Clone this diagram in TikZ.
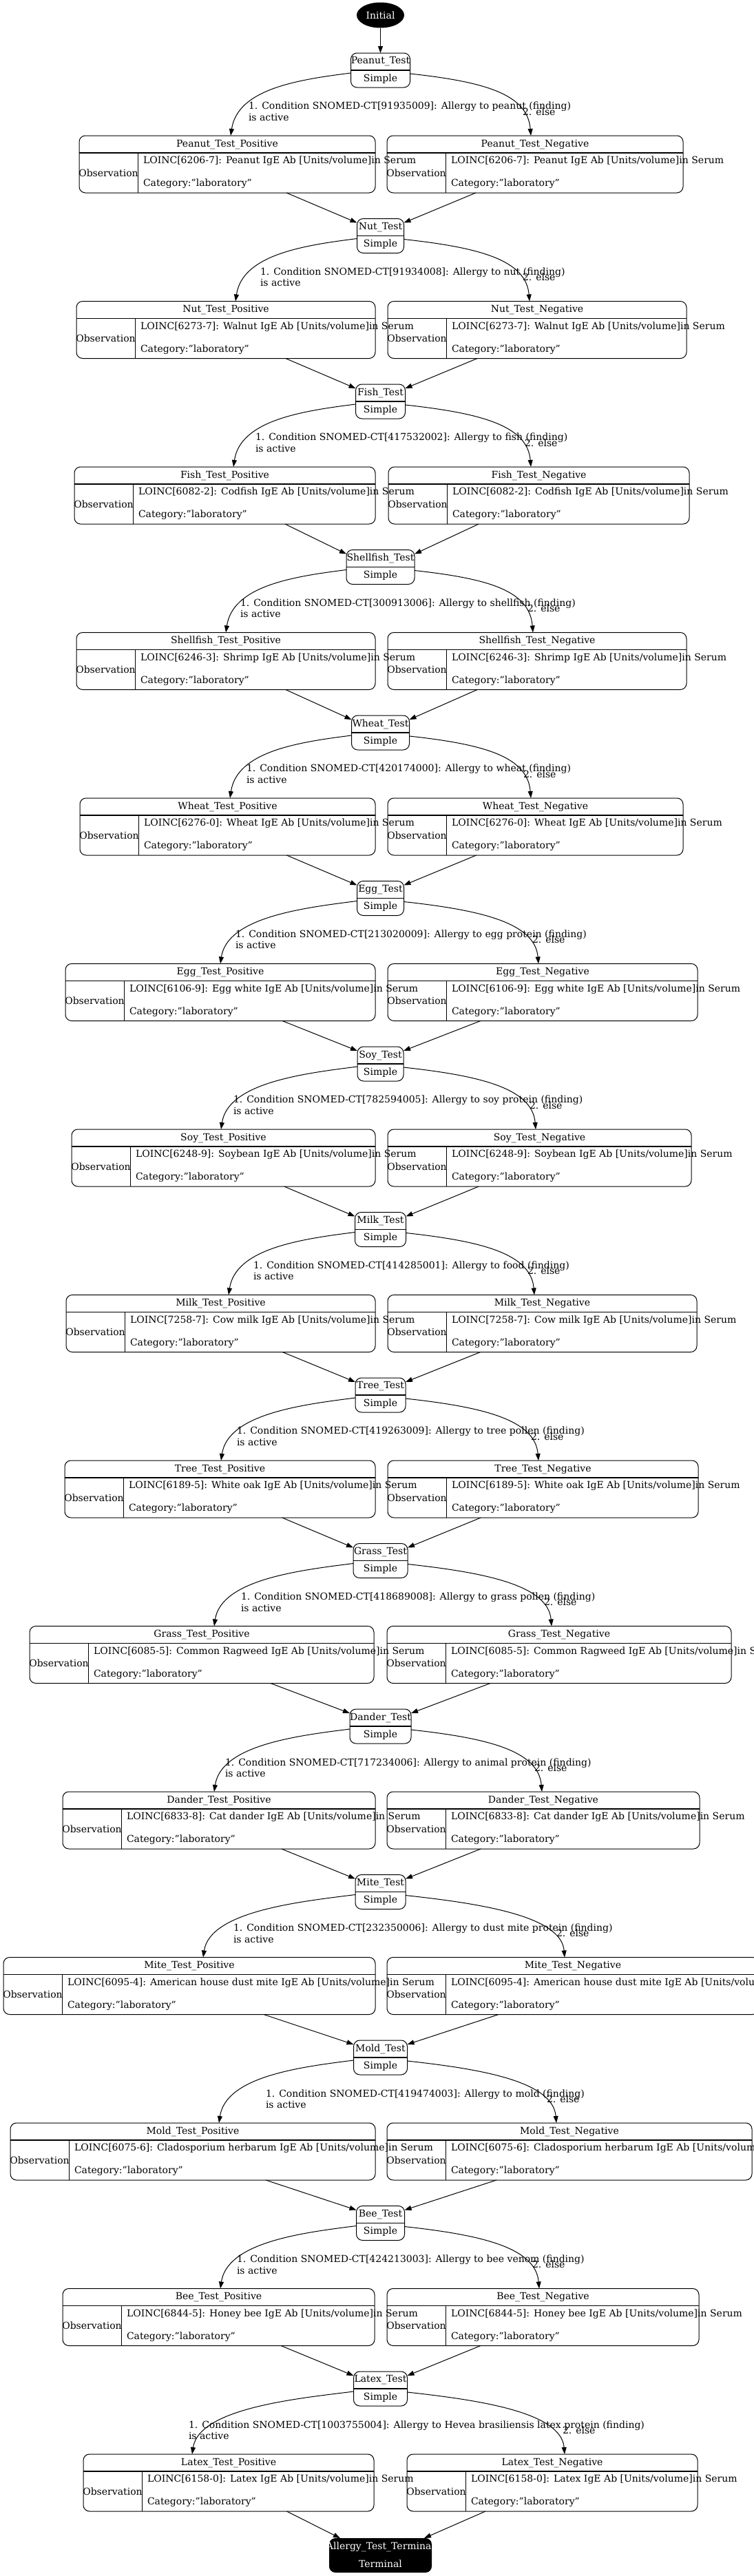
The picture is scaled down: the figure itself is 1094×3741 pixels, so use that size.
\documentclass[tikz,border=0pt]{standalone}
\usepackage{fontspec}
\setmainfont{DejaVu Serif}
\usetikzlibrary{arrows.meta,calc,shapes.geometric}
\newcommand\gvrecord[3]{%
  \draw[divider] ($(#1.north west)+(0,25)$) -- ($(#1.north east)+(0,25)$);
  \draw[thinline] ($(#1.north west)+(85,25)$) -- ($(#1.south west)+(85,0)$);
  \node at ($(#1.north)+(0,12.5)$) {#2};
  \node[anchor=west] at ($(#1.north west)+(93,37)$) {#3};
  \node[anchor=west] at ($(#1.north west)+(93,70)$) {Category:"laboratory"};
  \node at ($(#1.north west)+(42.5,54)$) {Observation};
}
\begin{document}
\begin{tikzpicture}[x=1bp,y=-1bp,
  every node/.style={font=\fontsize{14bp}{16.5bp}\selectfont, inner sep=0pt, outer sep=0pt},
  thinline/.style={line width=1bp},
  divider/.style={line width=1.2bp},
  recbox/.style={draw, rounded corners=9bp, line width=1bp, minimum height=83bp},
  statebox/.style={draw, rounded corners=9bp, line width=1bp, minimum height=50bp},
  arr/.style={-{Triangle[length=10bp,width=7bp]}, line width=1bp},
]
\fill[white] (0,0) rectangle (1094,3741);
\useasboundingbox (0,0) rectangle (1094,3741);

\node[ellipse, fill=black, minimum width=69bp, minimum height=37bp, text=white] (init) at (552.5,22) {Initial};

\foreach \k/\nm/\sw/\W/\pr/\nl/\lx/\px/\nx/\ex/\lo/\co in {
 1/Peanut/86/430/545/562/361/335/771/759/{LOINC[6206-7]: Peanut IgE Ab [Units/volume]in Serum}/{SNOMED-CT[91935009]: Allergy to peanut (finding)},
 2/Nut/68/434/545/563/378/342/769/759/{LOINC[6273-7]: Walnut IgE Ab [Units/volume]in Serum}/{SNOMED-CT[91934008]: Allergy to nut (finding)},
 3/Fish/72/437/545/564/371/339/771/762/{LOINC[6082-2]: Codfish IgE Ab [Units/volume]in Serum}/{SNOMED-CT[417532002]: Allergy to fish (finding)},
 4/Shellfish/99/434/545/563/349/328/774/766/{LOINC[6246-3]: Shrimp IgE Ab [Units/volume]in Serum}/{SNOMED-CT[300913006]: Allergy to shellfish (finding)},
 5/Wheat/84/429/545/563/358/334/771/760/{LOINC[6276-0]: Wheat IgE Ab [Units/volume]in Serum}/{SNOMED-CT[420174000]: Allergy to wheat (finding)},
 6/Egg/68/450/545/563/342/320/782/773/{LOINC[6106-9]: Egg white IgE Ab [Units/volume]in Serum}/{SNOMED-CT[213020009]: Allergy to egg protein (finding)},
 7/Soy/67/441/545/563/339/321/778/769/{LOINC[6248-9]: Soybean IgE Ab [Units/volume]in Serum}/{SNOMED-CT[782594005]: Allergy to soy protein (finding)},
 8/Milk/74/449/545/563/368/332/776/766/{LOINC[7258-7]: Cow milk IgE Ab [Units/volume]in Serum}/{SNOMED-CT[414285001]: Allergy to food (finding)},
 9/Tree/73/451/545/563/344/321/782/771/{LOINC[6189-5]: White oak IgE Ab [Units/volume]in Serum}/{SNOMED-CT[419263009]: Allergy to tree pollen (finding)},
 10/Grass/79/500/543/562/350/311/801/790/{LOINC[6085-5]: Common Ragweed IgE Ab [Units/volume]in Serum}/{SNOMED-CT[418689008]: Allergy to grass pollen (finding)},
 11/Dander/89/454/545/562/327/311/787/776/{LOINC[6833-8]: Cat dander IgE Ab [Units/volume]in Serum}/{SNOMED-CT[717234006]: Allergy to animal protein (finding)},
 12/Mite/73/540/545/562/339/295/820/808/{LOINC[6095-4]: American house dust mite IgE Ab [Units/volume]in Serum}/{SNOMED-CT[232350006]: Allergy to dust mite protein (finding)},
 13/Mold/78/530/545/562/386/318/808/794/{LOINC[6075-6]: Cladosporium herbarum IgE Ab [Units/volume]in Serum}/{SNOMED-CT[419474003]: Allergy to mold (finding)},
 14/Bee/70/453/544/562/344/320/783/773/{LOINC[6844-5]: Honey bee IgE Ab [Units/volume]in Serum}/{SNOMED-CT[424213003]: Allergy to bee venom (finding)},
 15/Latex/78/422/543/591/274/279/820/817/{LOINC[6158-0]: Latex IgE Ab [Units/volume]in Serum}/{SNOMED-CT[1003755004]: Allergy to Hevea brasiliensis latex protein (finding)}
}{
  \pgfmathsetmacro\T{77+(\k-1)*240.5}
  \pgfmathsetmacro\pcx{\pr-\W/2}
  \pgfmathsetmacro\ncx{\nl+\W/2}
  % state
  \node[statebox, minimum width=\sw*1bp] (s\k) at (552.5,\T+25) {};
  \draw[divider] (s\k.west) -- (s\k.east);
  \node at ($(s\k.north)+(0,12.5)$) {\nm\_Test};
  \node at ($(s\k.north)+(0,37.5)$) {Simple};
  % records
  \node[recbox, minimum width=\W*1bp] (p\k) at (\pcx,\T+161.5) {};
  \gvrecord{p\k}{\nm\_Test\_Positive}{\lo}
  \node[recbox, minimum width=\W*1bp] (n\k) at (\ncx,\T+161.5) {};
  \gvrecord{n\k}{\nm\_Test\_Negative}{\lo}
  % branches
  \draw[arr] ($(s\k.west)+(0,4)$) .. controls +(-80,10) and +(10,-67) .. ($(p\k.north west)+(\px-\pr+\W,0)$);
  \draw[arr] ($(s\k.east)+(0,5)$) .. controls +(110,12) and +(-5,-60) .. ($(n\k.north west)+(\nx-\nl,0)$);
  \node[anchor=west, align=left] (c\k) at (\lx,\T+85) {1. Condition \co\\is active};
  \node[anchor=west] (e\k) at (\ex,\T+85) {2. else};
}

\node[fill=black, rounded corners=9bp, minimum width=149bp, minimum height=50bp] (term) at (552.5,3711) {};
\node[text=white] at ($(term.north)+(0,12.5)$) {Allergy\_Test\_Terminal};
\node[text=white] at ($(term.north)+(0,37.5)$) {Terminal};

\draw[arr] (init) -- (s1);
\foreach \k [evaluate=\k as \j using int(\k+1)] in {1,...,14}{
  \draw[arr] ($(p\k.south east)!0.3!(p\k.south west)$) -- ($(s\j.north west)+(0,6)$);
  \draw[arr] ($(n\k.south west)!0.3!(n\k.south east)$) -- ($(s\j.north east)+(0,6)$);
}
\draw[arr] ($(p15.south east)!0.3!(p15.south west)$) -- ($(term.north west)+(16,0)$);
\draw[arr] ($(n15.south west)!0.27!(n15.south east)$) -- ($(term.north east)+(-11,0)$);
\end{tikzpicture}
\end{document}
